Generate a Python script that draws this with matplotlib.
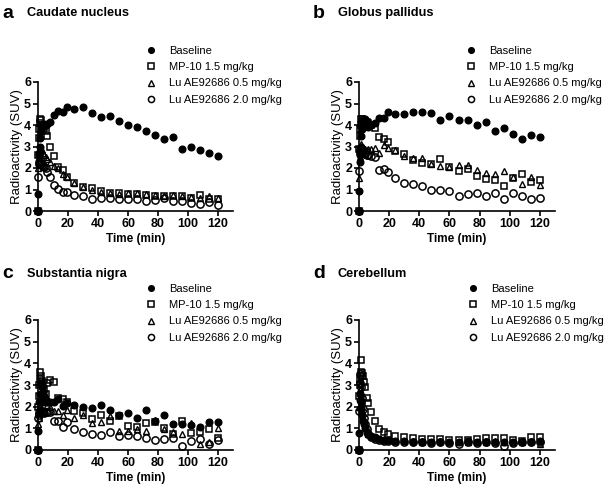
import numpy as np
import matplotlib
matplotlib.use("Agg")
import matplotlib.pyplot as plt
from matplotlib.lines import Line2D

plt.rcParams['font.family'] = ['Liberation Sans', 'DejaVu Sans']

# frame mid times (min)
t = [0, 0.25, 0.5, 0.75, 1, 1.5, 2, 2.5, 3, 4, 5, 6, 8,
     10.5, 13.5, 16.5, 19.5,
     24, 30, 36, 42, 48, 54, 60, 66, 72, 78, 84, 90, 96, 102, 108, 114, 120]

series_names = ['Baseline', 'MP-10 1.5 mg/kg', 'Lu AE92686 0.5 mg/kg', 'Lu AE92686 2.0 mg/kg']
panel_letters = ['a', 'b', 'c', 'd']
panel_titles = ['Caudate nucleus', 'Globus pallidus', 'Substantia nigra', 'Cerebellum']

# caudate nucleus
base_a = [0, 0.8, 2.6, 2.7, 3.0, 3.4, 3.7, 3.9, 4.0, 4.05, 4.0, 4.05, 4.15,
          4.47, 4.65, 4.62, 4.82,
          4.75, 4.82, 4.58, 4.38, 4.42, 4.18, 3.98, 3.92, 3.72, 3.52, 3.35, 3.42, 2.88, 3.0, 2.85, 2.72, 2.58]
mp_a = [0, 2.6, 3.4, 3.8, 4.1, 4.3, 4.25, 4.0, 3.9, 3.8, 3.7, 3.5, 3.0,
        2.58, 2.05, 1.9, 1.58,
        1.3, 1.1, 1.05, 0.95, 0.85, 0.82, 0.8, 0.78, 0.75, 0.72, 0.7, 0.72, 0.68, 0.62, 0.75, 0.55, 0.58]
lu05_a = [0, 2.0, 2.3, 2.5, 2.6, 2.8, 2.9, 2.85, 2.7, 2.6, 2.5, 2.4, 2.3,
          2.1, 2.0, 1.7, 1.6,
          1.3, 1.1, 1.0, 0.9, 0.85, 0.8, 0.85, 0.82, 0.78, 0.75, 0.7, 0.75, 0.7, 0.65, 0.6, 0.72, 0.6]
lu20_a = [0, 1.6, 2.2, 2.3, 2.25, 2.2, 2.2, 2.15, 2.1, 2.05, 2.0, 1.8, 1.6,
          1.2, 1.02, 0.88, 0.88,
          0.75, 0.72, 0.58, 0.6, 0.6, 0.55, 0.55, 0.58, 0.45, 0.5, 0.62, 0.48, 0.45, 0.38, 0.33, 0.4, 0.3]

# globus pallidus
base_b = [0, 0.95, 2.3, 2.6, 3.0, 3.5, 3.8, 4.0, 4.2, 4.3, 4.1, 3.9, 4.0,
          4.08, 4.34, 4.31, 4.62,
          4.5, 4.5, 4.62, 4.59, 4.54, 4.23, 4.43, 4.25, 4.22, 4.0, 4.12, 3.7, 3.88, 3.6, 3.35, 3.55, 3.42]
mp_b = [0, 2.9, 3.5, 3.8, 4.0, 4.3, 4.3, 4.2, 4.2, 4.15, 4.15, 4.1, 4.0,
        3.85, 3.45, 3.35, 3.2,
        2.8, 2.65, 2.35, 2.25, 2.2, 2.4, 2.05, 1.85, 1.95, 1.65, 1.5, 1.45, 1.15, 1.55, 1.7, 1.35, 1.45]
lu05_b = [0, 1.55, 2.5, 2.8, 3.0, 3.1, 3.0, 2.95, 2.9, 2.9, 2.85, 2.9, 2.9,
          2.95, 2.7, 3.07, 2.95,
          2.85, 2.55, 2.45, 2.45, 2.2, 2.1, 2.05, 2.15, 2.15, 1.9, 1.75, 1.7, 1.85, 1.6, 1.25, 1.6, 1.2]
lu20_b = [0, 1.85, 2.7, 2.85, 2.9, 2.85, 2.8, 2.75, 2.7, 2.65, 2.6, 2.6, 2.55,
          2.5, 1.9, 1.95, 1.8,
          1.55, 1.32, 1.25, 1.15, 1.0, 1.0, 0.95, 0.72, 0.78, 0.85, 0.7, 0.82, 0.55, 0.85, 0.7, 0.55, 0.6]

# substantia nigra
base_c = [0, 0.9, 1.8, 2.2, 2.6, 3.0, 3.1, 2.9, 2.7, 2.5, 2.3, 2.2, 2.2,
          2.2, 2.35, 2.05, 2.15,
          2.1, 2.0, 1.95, 2.1, 1.85, 1.6, 1.7, 1.5, 1.85, 1.35, 1.6, 1.2, 1.2, 1.15, 1.05, 1.3, 1.3]
mp_c = [0, 2.0, 2.5, 3.0, 3.3, 3.6, 3.4, 3.2, 3.0, 2.8, 2.6, 3.1, 3.25,
        3.15, 2.42, 2.35, 2.2,
        1.8, 1.7, 1.45, 1.6, 1.35, 1.55, 1.1, 1.05, 1.25, 1.3, 1.0, 0.75, 1.35, 0.8, 0.85, 0.95, 0.55]
lu05_c = [0, 1.2, 1.5, 1.8, 2.0, 2.1, 2.2, 2.4, 2.6, 2.3, 2.2, 2.1, 2.0,
          1.8, 1.8, 1.6, 1.85,
          1.5, 1.6, 1.25, 1.3, 1.55, 0.9, 0.9, 0.95, 0.9, 1.4, 0.95, 0.85, 0.75, 1.25, 0.3, 0.35, 1.0]
lu20_c = [0, 1.5, 1.6, 1.7, 1.75, 1.8, 1.8, 1.75, 1.75, 1.7, 1.75, 1.75, 1.75,
          1.35, 1.35, 1.05, 1.3,
          0.95, 0.85, 0.72, 0.7, 0.85, 0.65, 0.7, 0.65, 0.55, 0.45, 0.5, 0.55, 0.2, 0.4, 0.5, 0.3, 0.45]

# cerebellum
base_d = [0, 0.8, 2.3, 2.6, 2.2, 1.9, 1.6, 1.35, 1.2, 1.0, 0.85, 0.75, 0.65,
          0.58, 0.52, 0.48, 0.45,
          0.42, 0.4, 0.38, 0.38, 0.37, 0.38, 0.37, 0.38, 0.4, 0.38, 0.37, 0.38, 0.35, 0.37, 0.38, 0.35, 0.4]
mp_d = [0, 2.5, 3.0, 3.3, 3.6, 4.15, 3.55, 3.4, 3.15, 2.9, 2.4, 2.15, 1.75,
        1.32, 0.98, 0.82, 0.75,
        0.65, 0.62, 0.55, 0.5, 0.5, 0.5, 0.45, 0.45, 0.45, 0.5, 0.55, 0.55, 0.55, 0.45, 0.4, 0.62, 0.62]
lu05_d = [0, 2.0, 2.8, 3.0, 2.7, 2.4, 2.0, 1.7, 1.4, 1.1, 0.9, 0.75, 0.65,
          0.55, 0.5, 0.45, 0.45,
          0.42, 0.4, 0.4, 0.38, 0.38, 0.4, 0.38, 0.35, 0.38, 0.35, 0.38, 0.4, 0.38, 0.35, 0.38, 0.4, 0.3]
lu20_d = [0, 1.8, 3.1, 3.5, 3.4, 2.9, 2.4, 1.9, 1.5, 1.2, 0.95, 0.75, 0.62,
          0.52, 0.47, 0.43, 0.4,
          0.38, 0.36, 0.35, 0.35, 0.34, 0.35, 0.33, 0.28, 0.35, 0.33, 0.35, 0.33, 0.2, 0.33, 0.35, 0.35, 0.35]

panels = [
    [base_a, mp_a, lu05_a, lu20_a],
    [base_b, mp_b, lu05_b, lu20_b],
    [base_c, mp_c, lu05_c, lu20_c],
    [base_d, mp_d, lu05_d, lu20_d],
]

W, H = 609, 487
fig = plt.figure(figsize=(W / 100, H / 100), dpi=100)

# axes boxes in pixels: left, top, width, height
boxes = [(38, 82, 195, 129), (359, 82, 196, 129),
         (38, 320, 195, 130), (359, 320, 196, 130)]
legend_pos = [(145, 46), (465, 46), (145, 284), (467, 284)]
title_pos = [(2, 13), (313, 13), (2, 274), (313, 274)]

styles = [
    dict(marker='o', color='black', markerfacecolor='black', markersize=4.8),
    dict(marker='s', color='black', markerfacecolor='none', markersize=5.0, markeredgewidth=1.1),
    dict(marker='^', color='black', markerfacecolor='none', markersize=5.0, markeredgewidth=1.0),
    dict(marker='o', color='black', markerfacecolor='none', markersize=5.2, markeredgewidth=1.1),
]

for i, (l, tp, w, h) in enumerate(boxes):
    ax = fig.add_axes([l / W, 1 - (tp + h) / H, w / W, h / H])
    for vals, st in zip(panels[i], styles):
        ax.plot(t, vals, linestyle='none', clip_on=False, **st)
    ax.set_xlim(0, 130)
    ax.set_ylim(0, 6)
    ax.set_xticks(range(0, 121, 20))
    ax.set_yticks(range(0, 7))
    for s in ['top', 'right']:
        ax.spines[s].set_visible(False)
    for s in ['left', 'bottom']:
        ax.spines[s].set_linewidth(1.2)
    ax.tick_params(direction='out', length=3.5, width=1.2, labelsize=9, pad=1.5)
    for lab in ax.get_xticklabels() + ax.get_yticklabels():
        lab.set_fontweight('bold')
    ax.set_xlabel('Time (min)', fontsize=8.5, fontweight='bold', labelpad=2)
    ax.set_ylabel('Radioactivity (SUV)', fontsize=9.5, labelpad=1)

    handles = [Line2D([], [], linestyle='none', **dict(st, markersize=st['markersize'] * 0.85))
               for st in styles]
    lx, ly = legend_pos[i]
    fig.legend(handles, series_names, loc='upper left', bbox_to_anchor=(lx / W, 1 - ly / H),
               frameon=False, fontsize=8.0, handlelength=1.0, handletextpad=1.2,
               labelspacing=0.56, borderpad=0, borderaxespad=0)

    tx, ty = title_pos[i]
    fig.text(tx / W, 1 - ty / H, panel_letters[i], fontsize=14, fontweight='bold', va='center')
    fig.text((tx + 25) / W, 1 - ty / H, panel_titles[i], fontsize=9.2, fontweight='bold', va='center')

fig.savefig('out.png', dpi=100)
